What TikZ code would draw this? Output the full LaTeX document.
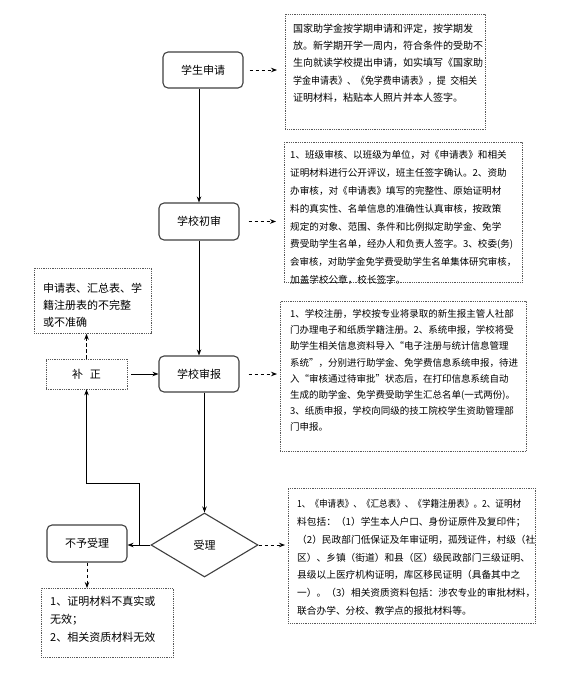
\documentclass[tikz,border=0pt]{standalone}
\usepackage{fontspec}
\usepackage{graphicx}
\setmainfont{Noto Sans CJK SC}
\usetikzlibrary{arrows.meta,shapes.geometric}
\newcommand\fitln[2]{\resizebox{#1}{\height}{#2}}
\begin{document}
\begin{tikzpicture}[x=1pt,y=-1pt,
  mainbox/.style={draw=black!75, line width=1.1pt, rounded corners=5pt, minimum width=80pt, minimum height=36pt, inner sep=0pt, font=\fontsize{11}{13}\selectfont},
  dotbox/.style={draw=black!65, line width=0.7pt, dash pattern=on 0.9pt off 0.9pt, anchor=north west, inner sep=0pt},
  txt/.style={anchor=north west, inner sep=0pt, align=left},
  arr/.style={-{Stealth[length=6pt,width=4.5pt]}, line width=0.8pt},
  darr/.style={arr, dash pattern=on 3.5pt off 2.5pt}
]
\useasboundingbox[fill=white] (0,0) rectangle (585,691);

% main nodes
\node[mainbox] (apply) at (203,70) {学生申请};
\node[mainbox, minimum height=37pt] (first) at (199,221.5) {学校初审};
\node[mainbox] (report) at (199,374) {学校审报};
\node[mainbox, rounded corners=0pt, draw=black!65, line width=0.7pt, dash pattern=on 0.9pt off 0.9pt, minimum width=81pt, minimum height=30pt] (fix) at (86.5,374) {补\hspace{0.6em}正};
\node[mainbox, minimum height=37pt] (reject) at (87,543.5) {不予受理};
\node[diamond, draw=black!75, line width=1.1pt, minimum width=107pt, minimum height=64pt, inner sep=0pt, font=\fontsize{11}{13}\selectfont] (acc) at (204.5,545) {受理};

% dotted boxes
\node[dotbox, minimum width=200pt, minimum height=115pt] (b1) at (285,14) {};
\node[dotbox, minimum width=238pt, minimum height=140pt] (b2) at (284,142) {};
\node[dotbox, minimum width=246pt, minimum height=150pt] (b3) at (280,301) {};
\node[dotbox, minimum width=247pt, minimum height=135pt] (b4) at (288,488) {};
\node[dotbox, minimum width=117pt, minimum height=65pt] (bl) at (34,268) {};
\node[dotbox, minimum width=132pt, minimum height=69pt] (bb) at (41,588) {};

% texts
\node[txt, font=\fontsize{10}{17.3}\selectfont] (t1) at (293,23.5) {国家助学金按学期申请和评定，按学期发\\放。新学期开学一周内，符合条件的受助不\\生向就读学校提出申请，如实填写《国家助\\\fitln{184pt}{学金申请表》、《免学费申请表》，提\hspace{0.5em}交相关}\\证明材料，粘贴本人照片并本人签字。};
\node[txt, font=\fontsize{9.6}{17.8}\selectfont] (t2) at (290,150.5) {1、班级审核、以班级为单位，对《申请表》和相关\\证明材料进行公开评议，班主任签字确认。2、资助\\办审核，对《申请表》填写的完整性、原始证明材\\料的真实性、名单信息的准确性认真审核，按政策\\规定的对象、范围、条件和比例拟定助学金、免学\\费受助学生名单，经办人和负责人签字。3、校委(务)\\\fitln{226pt}{会审核，对助学金免学费受助学生名单集体研究审核，}\\加盖学校公章，校长签字。};
\node[txt, font=\fontsize{9.5}{16.1}\selectfont] (t3) at (290,309.5) {1、学校注册，学校按专业将录取的新生报主管人社部\\门办理电子和纸质学籍注册。2、系统申报，学校将受\\助学生相关信息资料导入“电子注册与统计信息管理\\系统”，分别进行助学金、免学费信息系统申报，待进\\入“审核通过待审批”状态后，在打印信息系统自动\\生成的助学金、免学费受助学生汇总名单(一式两份)。\\3、纸质申报，学校向同级的技工院校学生资助管理部\\门申报。};
\node[txt, font=\fontsize{9.7}{17.7}\selectfont] (t4) at (297,499.5) {\fitln{224pt}{1、《申请表》、《汇总表》、《学籍注册表》。2、证明材}\\料包括：（1）学生本人户口、身份证原件及复印件；\\（2）民政部门低保证及年审证明，孤残证件，村级（社\\区）、乡镇（街道）和县（区）级民政部门三级证明、\\县级以上医疗机构证明，库区移民证明（具备其中之\\一）。（3）相关资质资料包括：涉农专业的审批材料，\\联合办学、分校、教学点的报批材料等。};
\node[txt, font=\fontsize{11}{17}\selectfont] (tl) at (43,282.5) {申请表、汇总表、学\\籍注册表的不完整\\或不准确};
\node[txt, font=\fontsize{11}{18}\selectfont] (tb) at (50,595.5) {1、证明材料不真实或\\无效；\\2、相关资质材料无效};

% connectors
\draw[arr] (apply.south -| first.north) -- (first.north);
\draw[arr] (first.south) -- (report.north);
\draw[arr] (report.south -| acc.north) -- (acc.north);
\draw[arr] (acc.west) -- (acc.west -| reject.east);
\draw[arr, shorten <=4pt] (fix.east) -- (report.west);
\path (acc.west) ++(-11,0) coordinate (j);
\draw[arr] (j) -- ++(0,-62) -| (fix.south);
\draw[darr] (fix.north) -- (fix.north |- bl.south);
\draw[darr] (reject.south) -- (reject.south |- bb.north);
\draw[darr, shorten <=6pt, shorten >=8pt] (apply.east) -- (apply.east -| b1.west);
\draw[darr, shorten <=9pt, shorten >=8pt] (first.east) -- (first.east -| b2.west);
\draw[darr, shorten <=9pt, shorten >=3pt] (report.east) -- (report.east -| b3.west);
\draw[darr, shorten >=3pt] (acc.east) -- (acc.east -| b4.west);
\end{tikzpicture}
\end{document}
